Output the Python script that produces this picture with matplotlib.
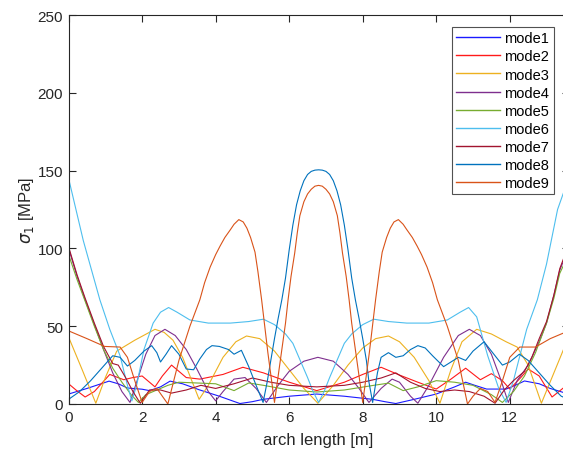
import matplotlib
matplotlib.use("Agg")
import matplotlib.pyplot as plt

# arch length [m] / sigma_1 [MPa], one pair of lists per mode
m1_x = [0, 0.5, 1.1, 1.35, 1.6, 2.0, 2.2, 2.5, 2.76, 3.1, 3.57, 4.1, 4.66, 5.0, 5.29, 6.0, 6.75,
        7.5, 8.27, 8.6, 8.9, 9.4, 10.0, 10.5, 10.8, 11.05, 11.37, 11.9, 12.15, 12.4, 12.8, 13.1, 13.6]
m1_y = [6.4, 10, 14.7, 13, 10.3, 9.5, 8.6, 11, 14.7, 13, 9, 5, 0.3, 1.5, 3, 5, 6.4,
        5, 3, 1.5, 0.3, 3, 6.4, 11, 14, 12, 9.6, 9.6, 12, 14.8, 13, 10, 6.4]

m2_x = [0, 0.2, 0.45, 0.7, 1.12, 1.5, 1.75, 2.0, 2.35, 2.55, 2.8, 3.2, 3.57, 4.2, 4.74, 5.3, 6.0,
        6.75, 7.5, 8.0, 8.5, 9.0, 9.5, 10.0, 10.4, 10.8, 11.2, 11.5, 11.8, 12.0, 12.3, 12.5, 12.8,
        13.15, 13.6]
m2_y = [13, 9, 4.5, 8, 19, 15.6, 17, 18, 11, 18, 25, 17, 16, 19, 23.6, 20, 14,
        8.6, 14, 19, 23.6, 18.6, 14, 9.6, 16, 23, 15.6, 19.5, 15, 9.6, 17, 22.5, 18,
        4.5, 13]

m3_x = [0, 0.37, 0.74, 1.0, 1.31, 1.8, 2.35, 2.6, 2.84, 3.1, 3.35, 3.55, 3.8, 4.2, 4.55, 4.84,
        5.2, 5.6, 6.0, 6.4, 6.78, 7.2, 7.6, 8.0, 8.35, 8.7, 9.0, 9.4, 9.8, 10.1, 10.4, 10.7, 11.1,
        11.5, 11.9, 12.2, 12.5, 12.86, 13.2, 13.6]
m3_y = [43, 22, 0.5, 17, 34, 41, 48, 46, 41, 30, 15, 3, 12, 30, 40, 43.7,
        42, 34, 22, 10, 0.5, 12, 25, 36, 42, 43.7, 40, 30, 15, 0.5, 22, 40, 48,
        45, 40, 36.6, 25, 0.5, 20, 43]

m4_x = [0, 0.23, 0.45, 0.7, 0.95, 1.2, 1.45, 1.67, 1.85, 2.1, 2.35, 2.62, 2.9, 3.2, 3.5, 3.8,
        4.0, 4.2, 4.5, 4.8, 5.1, 5.38, 5.7, 6.0, 6.4, 6.78, 7.2, 7.6, 7.9, 8.17, 8.5, 8.8, 9.0,
        9.3, 9.5, 9.8, 10.2, 10.6, 10.9, 11.2, 11.5, 11.75, 11.96, 12.2, 12.5, 12.8, 13.0, 13.2,
        13.36, 13.6]
m4_y = [100, 82, 67, 51, 35, 20, 8, 1, 14, 32, 44, 48, 44, 35, 22, 8,
        2, 8, 16, 17, 10, 1, 12, 21, 27.5, 30, 27.5, 19, 10, 1, 10, 16, 14,
        5, 0.5, 12, 30, 44, 48, 44, 32, 16, 1, 15, 25, 40, 52, 70,
        86, 100]

m5_x = [0, 0.23, 0.45, 0.7, 0.95, 1.2, 1.45, 1.7, 1.9, 2.1, 2.4, 2.7, 3.0, 3.5, 4.0, 4.5, 4.9,
        5.3, 6.0, 6.75, 7.5, 8.3, 8.7, 9.1, 9.5, 10.0, 10.5, 11.0, 11.5, 11.8, 12.1, 12.4, 12.7,
        13.0, 13.2, 13.36, 13.6]
m5_y = [96, 80, 66, 50, 35, 23, 14, 6, 1, 6, 9, 12, 14, 13.5, 13, 8.6, 13.5,
        12, 9, 7.7, 9, 12, 13.4, 8.6, 11, 15, 14, 12, 6, 1, 8, 18, 33,
        52, 68, 84, 96]

m6_x = [0, 0.4, 0.85, 1.12, 1.4, 1.6, 1.72, 1.85, 2.05, 2.3, 2.5, 2.72, 2.95, 3.3, 3.8, 4.4,
        4.9, 5.3, 5.6, 5.9, 6.1, 6.3, 6.5, 6.65, 6.8, 6.95, 7.1, 7.3, 7.5, 7.7, 8.0, 8.3, 8.7,
        9.2, 9.8, 10.3, 10.65, 10.88, 11.1, 11.4, 11.7, 11.9, 12.1, 12.46, 12.75, 13.0, 13.3,
        13.6]
m6_y = [145, 105, 67, 48, 31, 12, 2, 12, 35, 52, 59, 62, 59, 54, 52, 52,
        53, 54.5, 51, 45, 39, 28, 17, 8, 1, 8, 17, 28, 39, 45, 51, 54.5, 53,
        52, 52, 54, 59, 62, 56, 31, 10, 1, 15, 48, 67, 90, 125,
        145]

m7_x = [0, 0.23, 0.45, 0.7, 0.95, 1.2, 1.35, 1.55, 1.75, 1.95, 2.2, 2.5, 2.8, 3.2, 3.6, 4.0,
        4.5, 5.0, 5.5, 6.0, 6.75, 7.5, 8.0, 8.5, 8.9, 9.3, 9.7, 10.1, 10.5, 10.9, 11.3, 11.6,
        11.85, 12.1, 12.4, 12.6, 12.8, 13.0, 13.2, 13.36, 13.6]
m7_y = [101, 83, 68, 52, 37, 26, 25, 17, 8, 0.5, 9, 9, 7, 9, 12, 10,
        13, 16.7, 14, 12, 11, 12, 14, 16.7, 20, 14, 10, 8, 9, 8, 5, 0.5,
        9, 15, 21, 30, 42, 53, 70, 87, 102]

m8_x = [0, 0.3, 0.6, 0.9, 1.2, 1.4, 1.6, 1.8, 2.05, 2.26, 2.4, 2.5, 2.65, 2.8, 3.0, 3.2, 3.4,
        3.57, 3.75, 3.9, 4.1, 4.35, 4.5, 4.7, 4.9, 5.1, 5.29, 5.4, 5.5, 5.6, 5.7, 5.8, 5.9, 6.0,
        6.1, 6.2, 6.3, 6.4, 6.5, 6.6, 6.7, 6.8, 6.9, 7.0, 7.1, 7.2, 7.3, 7.4, 7.5, 7.6, 7.7,
        7.8, 7.9, 8.0, 8.1, 8.17, 8.27, 8.4, 8.5, 8.7, 8.9, 9.1, 9.3, 9.5,
        9.7, 9.9, 10.2, 10.4, 10.6, 10.8, 11.0, 11.3, 11.5, 11.8, 12.0, 12.26, 12.5, 12.8, 13.1,
        13.4, 13.6]
m8_y = [3, 8, 15, 23, 31, 30, 24.4, 28, 34, 37.5, 33, 27, 32, 37.5, 32, 22.5, 22,
        29, 35, 37.5, 37, 35, 32, 34.5, 24, 12, 1, 14, 28, 42, 55, 67, 81, 99,
        115, 128, 137, 143.5, 147.5, 149.5, 150.3, 150.5, 150.3, 149.5, 147.5, 143.5, 137, 128, 115, 99, 81,
        67, 55, 42, 28, 14, 1, 20, 30, 33, 30, 31, 35, 37.5,
        36, 31, 24, 27, 30, 28, 34, 40, 34, 25, 27, 32, 28, 20, 12,
        5, 3]

m9_x = [0, 0.5, 0.98, 1.4, 1.6, 1.8, 2.0, 2.2, 2.4, 2.55, 2.7, 3.0, 3.3, 3.57, 3.7, 3.85, 4.0,
        4.12, 4.25, 4.4, 4.5, 4.63, 4.75, 4.85, 4.95, 5.07, 5.15, 5.25, 5.42, 5.6, 5.7, 5.8, 5.9,
        5.97, 6.05, 6.15, 6.22, 6.29, 6.4, 6.5, 6.6, 6.7, 6.8, 6.9, 7.0, 7.1, 7.2, 7.31, 7.38,
        7.45, 7.55, 7.63, 7.7, 7.8, 7.9, 8.0, 8.18, 8.35, 8.45, 8.53, 8.65, 8.75, 8.85, 8.97,
        9.1, 9.2, 9.35, 9.48, 9.6, 9.75, 9.9, 10.03, 10.3, 10.6, 10.85, 11.0, 11.2, 11.4, 11.6,
        11.8, 12.0, 12.27, 12.7, 13.1, 13.6]
m9_y = [47, 42, 37, 36.6, 30, 15, 1, 8, 10, 5, 0, 28, 50, 67, 78, 88, 96,
        101.5, 107, 112, 115.5, 118.5, 117, 113, 107, 97.6, 85, 67, 33, 1, 18, 35, 52,
        67, 82, 97, 110, 121, 130, 135, 138, 140, 140.5, 140, 138, 135, 130, 121, 110,
        97, 82, 67, 52, 35, 18, 1, 33, 67, 85, 97.6, 107, 113, 117, 118.5,
        115.5, 112, 107, 101.5, 96, 88, 78, 67, 50, 28, 0, 5, 10, 8, 1,
        15, 30, 36.6, 36.6, 42, 47]

modes = [(m1_x, m1_y), (m2_x, m2_y), (m3_x, m3_y), (m4_x, m4_y), (m5_x, m5_y),
         (m6_x, m6_y), (m7_x, m7_y), (m8_x, m8_y), (m9_x, m9_y)]
labels = ["mode%d" % (i + 1) for i in range(9)]
colors = [(0.1, 0.1, 1.0), (1.0, 0.1, 0.1), (0.929, 0.694, 0.125),
          (0.494, 0.184, 0.556), (0.466, 0.674, 0.188), (0.301, 0.745, 0.933),
          (0.635, 0.078, 0.184), (0.0, 0.447, 0.741), (0.85, 0.325, 0.098)]

plt.rcParams['font.family'] = ['Liberation Sans', 'DejaVu Sans']
plt.rcParams['mathtext.fontset'] = 'dejavusans'

fig = plt.figure(figsize=(5.63, 4.56), dpi=100)
# the right border of the axes is cut off in the reference image
ax = fig.add_axes([68.6 / 563, 51 / 456, 500 / 563, 389 / 456])

for (xs, ys), lab, c in zip(modes, labels, colors):
    ax.plot(xs, ys, color=c, linewidth=0.8, label=lab)

ax.set_xlim(0, 13.6)
ax.set_ylim(0, 250)
ax.set_xticks([0, 2, 4, 6, 8, 10, 12])
ax.set_yticks([0, 50, 100, 150, 200, 250])

edge = (0.15, 0.15, 0.15)
for s in ax.spines.values():
    s.set_color(edge)
    s.set_linewidth(0.8)
ax.tick_params(direction='in', length=5, width=0.8, color=edge, labelcolor=edge,
               labelsize=11, top=True, right=True, pad=4)

ax.set_xlabel("arch length [m]", fontsize=12, color=edge, labelpad=6)
ax.set_ylabel(r"$\sigma_1$ [MPa]", fontsize=12, color=edge, labelpad=1)

leg = ax.legend(loc='upper right', bbox_to_anchor=(485 / 500, 1 - 12 / 389), borderaxespad=0,
                fontsize=10.5, frameon=True, fancybox=False, handlelength=3.0,
                handletextpad=0.3, labelspacing=0.28, borderpad=0.3)
leg.get_frame().set_edgecolor(edge)
leg.get_frame().set_linewidth(0.8)
for h in leg.get_lines():
    h.set_linewidth(1.0)

fig.savefig("out.png", dpi=100)
